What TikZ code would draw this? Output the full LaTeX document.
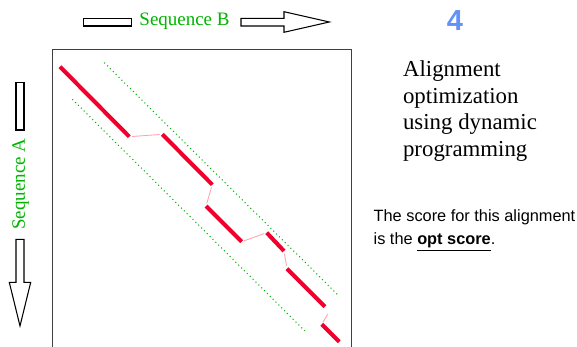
\documentclass[tikz,border=0pt]{standalone}
\usepackage{fontspec}
\setmainfont{Liberation Serif}
\newfontfamily\arialfont{Liberation Sans}
\definecolor{seqgreen}{RGB}{0,180,0}
\definecolor{alnred}{RGB}{240,0,45}
\definecolor{gappink}{RGB}{250,165,180}
\definecolor{numblue}{RGB}{100,145,245}
\begin{document}
\begin{tikzpicture}[x=0.02cm, y=-0.02cm,
        seqlabel/.style={text=seqgreen, inner sep=0pt, font=\fontsize{10.8}{13}\selectfont},
        blockarrow/.style={draw=black, line width=0.6pt, fill=white},
        gridbox/.style={draw=black!75, line width=0.7pt},
        matchseg/.style={draw=alnred, line width=2.3pt},
        gapseg/.style={draw=gappink, line width=0.5pt, shorten >=1.5pt, shorten <=1.5pt},
        band/.style={draw=seqgreen, line width=0.6pt, dash pattern=on 0.6pt off 1.7pt}
    ]
        \useasboundingbox (0,0) rectangle (577,347);

        \draw[blockarrow] (83.7,18.3) rectangle (131.7,26);
        \draw[blockarrow] (241,18.3) -- (284,18.3) -- (284,11.7) -- (329.3,22) -- (284,32.3) -- (284,26) -- (241,26) -- cycle;
        \node[seqlabel] (seqB) at (184.5,21.5) {Sequence B};

        \draw[blockarrow] (16,82.3) rectangle (24,130);
        \draw[blockarrow] (16,239.3) -- (16,282.3) -- (9.3,282.3) -- (20,326) -- (30.7,282.3) -- (24,282.3) -- (24,239.3) -- cycle;
        \node[seqlabel, rotate=90] (seqA) at (20.5,184) {Sequence A};

        \draw[gridbox] (52.3,350) -- (52.3,49.3) -- (351.7,49.3) -- (351.7,350);

        \coordinate (u1) at (104.3,62.7);
        \coordinate (u2) at (339,296);
        \coordinate (l1) at (72.3,99.3);
        \coordinate (l2) at (306.7,332.7);
        \draw[band] (u1) -- (u2);
        \draw[band] (l1) -- (l2);

        \coordinate (p1) at (60,66.7);
        \coordinate (p2) at (129.3,136.7);
        \coordinate (p3) at (162.3,134.3);
        \coordinate (p4) at (212.3,184.7);
        \coordinate (p5) at (206,206);
        \coordinate (p6) at (241.7,241.7);
        \coordinate (p7) at (266.7,232.7);
        \coordinate (p8) at (284,251);
        \coordinate (p9) at (287,268.7);
        \coordinate (p10) at (325,306.7);
        \coordinate (p11) at (329.3,311.7);
        \coordinate (p12) at (321.7,324.3);
        \coordinate (p13) at (339.3,341.7);

        \draw[gapseg] (p2) -- (p3);
        \draw[gapseg] (p4) -- (p5);
        \draw[gapseg] (p6) -- (p7);
        \draw[gapseg] (p8) -- (p9);
        \draw[gapseg] (p11) -- (p12);

        \draw[matchseg] (p1) -- (p2);
        \draw[matchseg] (p3) -- (p4);
        \draw[matchseg] (p5) -- (p6);
        \draw[matchseg] (p7) -- (p8);
        \draw[matchseg] (p9) -- (p10);
        \draw[matchseg] (p12) -- (p13);

        \node[text=numblue, font=\arialfont\bfseries\fontsize{16.5}{18}\selectfont] (step) at (455,20.5) {4};
        \node[anchor=north west, inner sep=0pt, align=left, font=\fontsize{13}{15.3}\selectfont] (title) at (402.7,60) {Alignment\\optimization\\using dynamic\\programming};
        \node[anchor=north west, inner sep=0pt, align=left, font=\arialfont\fontsize{9.3}{13}\selectfont] (score) at (373.3,209) {The score for this alignment\\is the \underline{\textbf{opt score}}.};
    \end{tikzpicture}
\end{document}
